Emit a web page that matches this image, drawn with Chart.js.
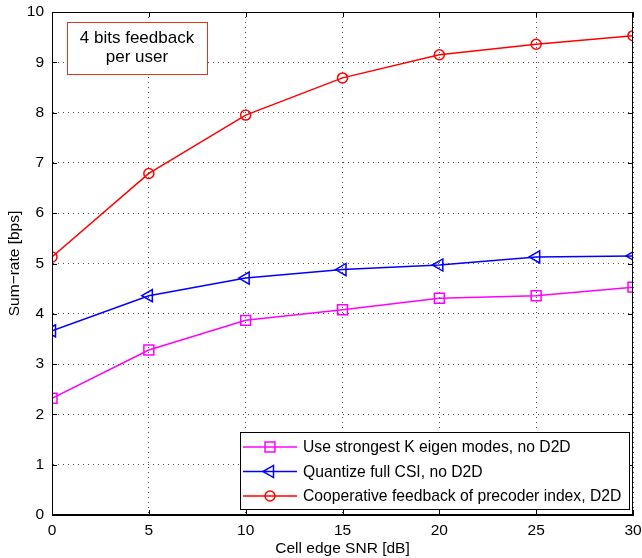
<!DOCTYPE html>
<html>
<head>
<meta charset="utf-8">
<script src="https://cdn.jsdelivr.net/npm/chart.js@4/dist/chart.umd.min.js"></script>
<style>
    html, body { margin: 0; padding: 0; background: #fff; }
    #wrap { width: 642px; height: 558px; position: relative; }
</style>
</head>
<body>
<div id="wrap"><canvas id="sumRateChart" width="642" height="558"></canvas></div>
<script>
const snrDb = [0, 5, 10, 15, 20, 25, 30];
const eigenModesRate = [2.32, 3.28, 3.87, 4.08, 4.31, 4.36, 4.53];
const fullCsiRate = [3.66, 4.36, 4.71, 4.88, 4.97, 5.13, 5.15];
const cooperativeRate = [5.13, 6.79, 7.95, 8.69, 9.15, 9.36, 9.53];
const seriesLabels = [
    'Use strongest K eigen modes, no D2D',
    'Quantize full CSI, no D2D',
    'Cooperative feedback of precoder index, D2D'
];
const noteLines = ['4 bits feedback', 'per user'];

const FONT = '"Liberation Sans", Arial, Helvetica, sans-serif';

function toPoints(values) {
    return snrDb.map(function (x, i) { return { x: x, y: values[i] }; });
}

// box, inward ticks, legend and the text note, drawn MATLAB style
const matlabFrame = {
    id: 'matlabFrame',
    afterDraw: function (chart) {
        const ctx = chart.ctx;
        const a = chart.chartArea;
        const xs = chart.scales.x;
        const ys = chart.scales.y;
        ctx.save();
        ctx.strokeStyle = '#000';
        ctx.lineWidth = 1;
        ctx.strokeRect(a.left + 0.5, a.top + 0.5, a.right - a.left - 1, a.bottom - a.top - 1);

        const tl = 5;
        ctx.beginPath();
        xs.ticks.forEach(function (t) {
            const px = Math.round(xs.getPixelForValue(t.value)) + 0.5;
            ctx.moveTo(px, a.bottom); ctx.lineTo(px, a.bottom - tl);
            ctx.moveTo(px, a.top); ctx.lineTo(px, a.top + tl);
        });
        ys.ticks.forEach(function (t) {
            const py = Math.round(ys.getPixelForValue(t.value)) + 0.5;
            ctx.moveTo(a.left, py); ctx.lineTo(a.left + tl, py);
            ctx.moveTo(a.right, py); ctx.lineTo(a.right - tl, py);
        });
        ctx.stroke();

        // text note
        const nx = a.left + 15, ny = a.top + 10, nw = 140, nh = 52;
        ctx.fillStyle = '#fff';
        ctx.fillRect(nx, ny, nw, nh);
        ctx.strokeStyle = '#e5331b';
        ctx.strokeRect(nx + 0.5, ny + 0.5, nw, nh);
        ctx.fillStyle = '#000';
        ctx.font = '17px ' + FONT;
        ctx.textAlign = 'center';
        ctx.textBaseline = 'middle';
        ctx.fillText(noteLines[0], nx + nw / 2, ny + 16);
        ctx.fillText(noteLines[1], nx + nw / 2, ny + 35);

        // legend
        const lw = 389, lh = 77;
        const lx = a.right - lw - 4, ly = a.bottom - lh - 6;
        ctx.fillStyle = '#fff';
        ctx.fillRect(lx, ly, lw, lh);
        ctx.strokeStyle = '#000';
        ctx.strokeRect(lx + 0.5, ly + 0.5, lw, lh);
        ctx.font = '15.7px ' + FONT;
        ctx.textAlign = 'left';
        chart.data.datasets.forEach(function (ds, i) {
            const ry = ly + 15 + i * 24.5;
            ctx.strokeStyle = ds.borderColor;
            ctx.lineWidth = ds.borderWidth;
            ctx.beginPath();
            ctx.moveTo(lx + 3, ry); ctx.lineTo(lx + 57, ry);
            ctx.stroke();
            ctx.fillStyle = 'rgba(0,0,0,0)';
            ctx.strokeStyle = ds.pointBorderColor;
            ctx.lineWidth = ds.pointBorderWidth;
            Chart.helpers.drawPoint(ctx, {
                pointStyle: ds.pointStyle,
                rotation: ds.pointRotation || 0,
                radius: ds.pointRadius,
                borderWidth: ds.pointBorderWidth
            }, lx + 30, ry);
            ctx.fillStyle = '#000';
            ctx.fillText(ds.label, lx + 63, ry + 1);
        });
        ctx.restore();
    }
};

function seriesStyle(color, style, rotation, radius) {
    return {
        borderColor: color,
        backgroundColor: 'rgba(0,0,0,0)',
        pointBackgroundColor: 'rgba(0,0,0,0)',
        pointBorderColor: color,
        borderWidth: 1.5,
        pointBorderWidth: 1.5,
        pointRadius: radius,
        pointStyle: style,
        pointRotation: rotation,
        tension: 0
    };
}

const gridStyle = {
    color: 'rgba(0,0,0,0.7)',
    lineWidth: 1,
    drawTicks: false
};

new Chart(document.getElementById('sumRateChart'), {
    type: 'line',
    data: {
        datasets: [
            Object.assign({ label: seriesLabels[0], data: toPoints(eigenModesRate) }, seriesStyle('#ff00ff', 'rect', 0, 7)),
            Object.assign({ label: seriesLabels[1], data: toPoints(fullCsiRate) }, seriesStyle('#0000ff', 'triangle', -90, 7)),
            Object.assign({ label: seriesLabels[2], data: toPoints(cooperativeRate) }, seriesStyle('#ff0000', 'circle', 0, 5))
        ]
    },
    options: {
        responsive: false,
        animation: false,
        layout: { padding: { top: 12, right: 9, left: 5, bottom: 0 } },
        plugins: {
            legend: { display: false },
            tooltip: { enabled: false }
        },
        scales: {
            x: {
                type: 'linear',
                min: 0,
                max: 30,
                ticks: { stepSize: 5, color: '#000', padding: 6, font: { size: 15.5, family: FONT } },
                grid: gridStyle,
                border: { display: true, color: '#000', dash: [1, 4] },
                title: { display: true, text: 'Cell edge SNR [dB]', color: '#000', padding: 0, font: { size: 15.5, family: FONT } },
                afterFit: function (scale) {
                    scale.height = 43;
                    scale.paddingLeft = 0;
                    scale.paddingRight = 0;
                }
            },
            y: {
                min: 0,
                max: 10,
                ticks: { stepSize: 1, color: '#000', padding: 8, font: { size: 15.5, family: FONT } },
                grid: gridStyle,
                border: { display: true, color: '#000', dash: [1, 4] },
                title: { display: true, text: 'Sum\u2212rate [bps]', color: '#000', padding: 0, font: { size: 15.5, family: FONT } },
                afterFit: function (scale) {
                    scale.width = 47;
                    scale.paddingTop = 0;
                    scale.paddingBottom = 0;
                }
            }
        }
    },
    plugins: [matlabFrame]
});
</script>
</body>
</html>
